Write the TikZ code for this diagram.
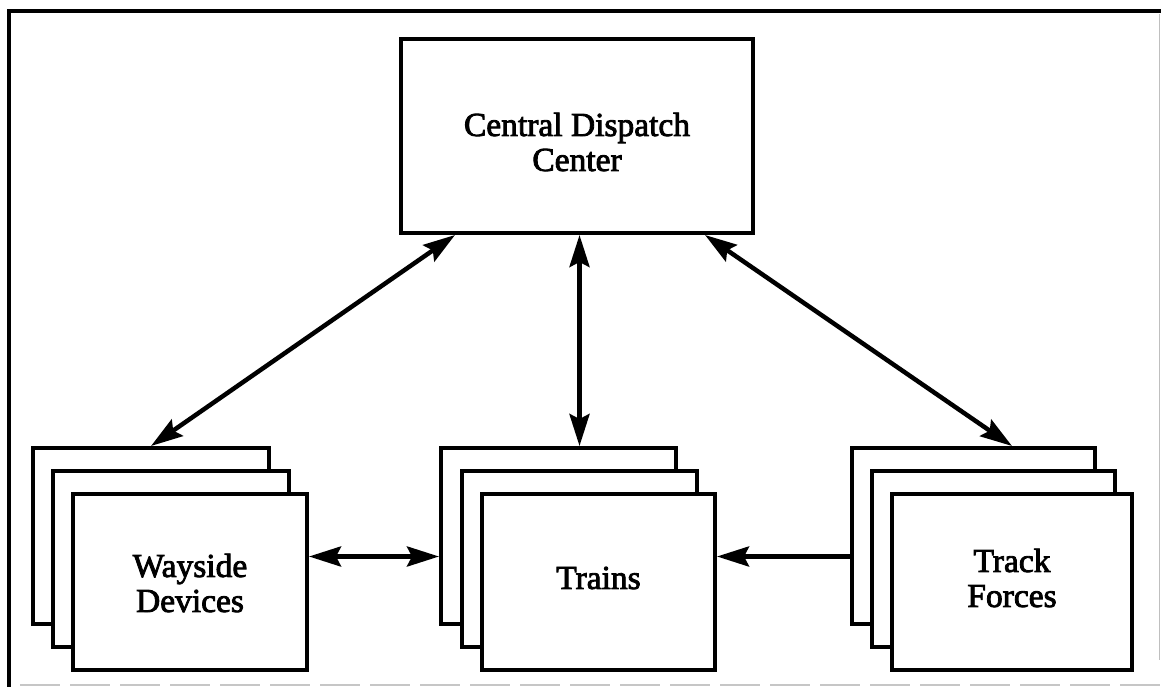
\documentclass[tikz,border=0pt]{standalone}
\usepackage{fontspec}
\setmainfont{Liberation Serif}[FakeBold=2.5]
\usetikzlibrary{arrows.meta,calc}
\begin{document}
\begin{tikzpicture}[x=1pt,y=-1pt,
  box/.style={draw,fill=white,line width=4pt,inner sep=0pt},
  stackbox/.style={box,minimum height=176pt},
  label/.style={font=\fontsize{33.5}{35}\selectfont,align=center},
  link/.style={line width=4.5pt},
  tip/.style={-{Stealth[length=32pt,width=20pt,inset=5pt]}},
  tips/.style={{Stealth[length=32pt,width=20pt,inset=5pt]}-{Stealth[length=32pt,width=20pt,inset=5pt]}}]
\useasboundingbox (0,0) rectangle (1161,687);
% page frame
\draw[line width=4pt] (8.5,687) -- (8.5,11.5) -- (1161,11.5);
\draw[line width=1.5pt,gray!50] (1159.5,14) -- (1159.5,660);
\draw[line width=2pt,gray!45,dash pattern=on 40pt off 10pt] (20,685) -- (1161,685);

% central node
\node[box,minimum width=352pt,minimum height=194pt] (central) at (577,136) {};
\node[label] at (577,142) {Central Dispatch\\Center};

% wayside devices stack
\node[stackbox,minimum width=236pt] (wb) at (151,536) {};
\node[stackbox,minimum width=236pt] (wm) at (171,558.5) {};
\node[stackbox,minimum width=234pt] (wf) at (190,581.5) {};
\node[label] at (190,583) {Wayside\\Devices};

% trains stack
\node[stackbox,minimum width=235pt] (tb) at (558.5,536) {};
\node[stackbox,minimum width=235pt] (tm) at (579.5,558.5) {};
\node[stackbox,minimum width=233pt] (tf) at (598.5,581.5) {};
\node[label] at (598.5,578) {Trains};

% track forces stack
\node[stackbox,minimum width=243pt] (kb) at (973.5,536) {};
\node[stackbox,minimum width=243pt] (km) at (993.5,558.5) {};
\node[stackbox,minimum width=240pt] (kf) at (1012,581.5) {};
\node[label] at (1012,578) {Track\\Forces};

% connectors
\coordinate (c1) at ($(central.south west)+(56,0)$);
\coordinate (c3) at ($(central.south east)+(-50,0)$);
\coordinate (hy) at ($(wf.east)+(0,-25)$);
\draw[link,tips] (c1) -- (wb.north);
\draw[link,tips] (tm.north |- central.south) -- (tm.north |- tb.north);
\draw[link,tips] (c3) -- (kf.north |- kb.north);
\draw[link,tips] (hy) -- (tb.west |- hy);
\draw[link,tip] (kb.west |- hy) -- (tf.east |- hy);
\end{tikzpicture}
\end{document}
